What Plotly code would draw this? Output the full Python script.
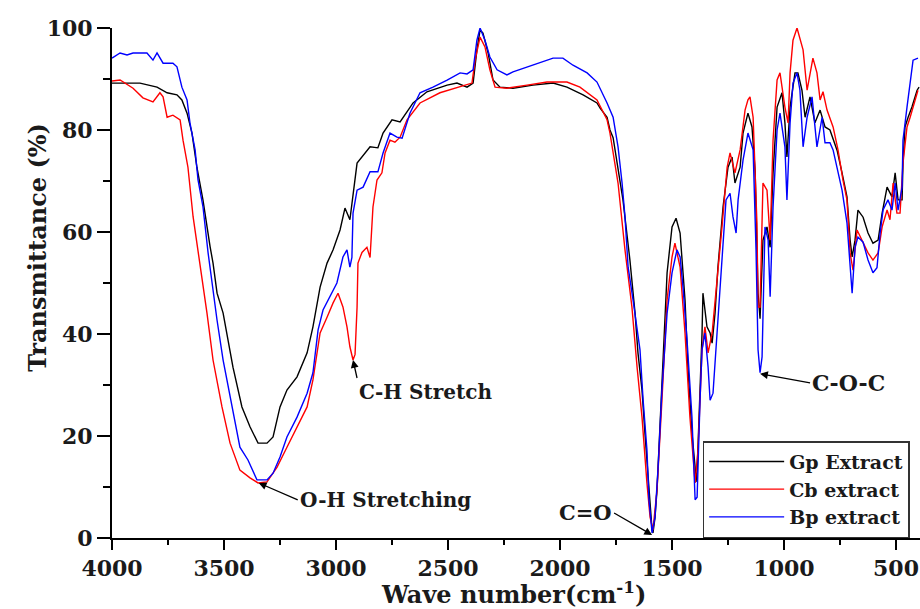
import plotly.graph_objects as go

# ---------------- data ----------------
gp_wave = [4000, 3875, 3799, 3754, 3710, 3688, 3665, 3643, 3621, 3594, 3562, 3549, 3531, 3504,
           3460, 3420, 3384, 3348, 3308, 3281, 3250, 3219, 3174, 3129, 3103, 3071, 3040, 3013,
           2982, 2960, 2938, 2924, 2906, 2848, 2813, 2790, 2750, 2714, 2656, 2594, 2504, 2460,
           2415, 2388, 2371, 2357, 2344, 2321, 2299, 2268, 2210, 2121, 2031, 1969, 1897, 1835,
           1821, 1790, 1777, 1763, 1719, 1688, 1665, 1652, 1634, 1621, 1607, 1598, 1589, 1585,
           1576, 1567, 1554, 1540, 1522, 1500, 1482, 1464, 1442, 1429, 1411, 1397, 1393, 1388,
           1375, 1366, 1362, 1353, 1344, 1330, 1321, 1308, 1295, 1272, 1250, 1232, 1219, 1196,
           1183, 1161, 1143, 1129, 1121, 1116, 1107, 1094, 1076, 1062, 1049, 1031, 1009, 996,
           987, 973, 951, 938, 920, 906, 884, 862, 839, 817, 795, 763, 741, 719, 705, 696, 683,
           670, 647, 625, 603, 580, 562, 540, 518, 504, 491, 473, 469, 460, 446, 429, 406, 397]
gp_trans = [89.2, 89.2, 88.4, 87.3, 86.9, 85.9, 83.3, 79.4, 72.7, 66.3, 57.1, 53.9, 48.0, 44.1,
            33.5, 25.7, 21.8, 18.6, 18.6, 19.8, 25.7, 29.0, 31.6, 36.3, 41.4, 49.2, 53.9, 56.5,
            60.4, 64.7, 62.4, 67.6, 73.5, 76.7, 76.5, 79.4, 82.0, 81.6, 85.3, 87.5, 88.8, 89.2,
            88.4, 89.2, 95.7, 99.6, 99.0, 95.1, 89.8, 88.4, 88.2, 88.8, 89.2, 88.4, 86.9, 85.3,
            84.3, 82.5, 80.0, 78.5, 66.3, 54.5, 44.1, 36.3, 29.0, 20.6, 12.0, 6.0, 1.5, 1.0,
            4.0, 9.4, 21.8, 36.9, 52.0, 61.0, 62.7, 59.8, 46.7, 33.5, 20.6, 13.9, 11.0, 13.0,
            27.0, 40.2, 48.0, 44.0, 41.4, 40.2, 38.2, 44.1, 53.1, 65.0, 72.7, 74.7, 69.6, 72.7,
            79.4, 83.3, 80.6, 72.0, 60.0, 48.0, 43.0, 58.4, 61.0, 57.0, 71.6, 84.5, 87.3, 81.4,
            74.7, 84.5, 91.2, 91.2, 87.8, 82.5, 86.5, 81.4, 83.9, 80.6, 80.0, 76.0, 71.6, 66.9,
            58.4, 55.1, 58.4, 64.3, 62.9, 59.8, 57.8, 58.4, 63.7, 68.8, 66.9, 71.6, 66.3, 66.3,
            73.5, 80.6, 82.5, 84.5, 87.8, 88.4]

cb_wave = [4000, 3964, 3906, 3862, 3817, 3786, 3772, 3754, 3728, 3696, 3683, 3661, 3638, 3607,
           3589, 3576, 3549, 3509, 3473, 3429, 3384, 3348, 3308, 3263, 3219, 3174, 3129, 3103,
           3071, 3040, 3013, 2991, 2969, 2951, 2938, 2924, 2915, 2906, 2902, 2884, 2862, 2848,
           2835, 2817, 2795, 2781, 2759, 2737, 2714, 2683, 2625, 2536, 2446, 2393, 2379, 2357,
           2335, 2313, 2290, 2237, 2147, 2058, 1969, 1911, 1835, 1790, 1777, 1741, 1710, 1679,
           1656, 1634, 1612, 1598, 1585, 1567, 1545, 1522, 1500, 1487, 1464, 1442, 1420, 1397,
           1384, 1366, 1353, 1339, 1321, 1299, 1277, 1254, 1241, 1219, 1196, 1174, 1161, 1152,
           1138, 1129, 1121, 1116, 1107, 1094, 1076, 1062, 1049, 1031, 1018, 996, 982, 973, 960,
           942, 915, 897, 871, 853, 839, 826, 808, 781, 759, 737, 719, 705, 692, 674, 652, 625,
           603, 580, 562, 540, 527, 513, 496, 482, 469, 451, 437, 424, 402]
cb_trans = [89.6, 89.8, 88.2, 86.3, 85.5, 87.3, 86.5, 82.5, 82.9, 82.0, 78.0, 72.7, 63.0, 54.0,
            48.0, 44.1, 34.9, 25.7, 18.6, 13.3, 11.8, 10.8, 11.0, 13.9, 17.8, 21.8, 25.7, 31.0,
            40.2, 43.3, 46.1, 48.0, 45.3, 41.4, 37.5, 34.9, 36.0, 45.3, 53.9, 56.0, 57.0, 55.0,
            64.9, 70.2, 71.6, 75.5, 78.0, 77.6, 78.6, 82.0, 85.3, 87.3, 88.4, 89.2, 93.7, 98.2,
            96.3, 91.8, 88.4, 88.2, 88.8, 89.4, 89.4, 88.4, 85.9, 82.0, 79.4, 69.6, 56.5, 45.3,
            33.5, 23.7, 10.8, 4.1, 1.6, 9.4, 27.0, 46.7, 55.1, 57.8, 53.1, 40.2, 23.7, 10.8,
            17.3, 36.9, 41.4, 36.3, 40.2, 50.0, 61.0, 72.7, 75.5, 71.6, 76.1, 83.9, 85.9, 86.5,
            82.5, 71.6, 61.8, 45.3, 45.3, 69.6, 68.2, 58.4, 78.0, 89.8, 91.2, 84.5, 81.4, 91.2, 97.6,
            100.0, 95.7, 87.8, 94.1, 91.2, 85.9, 87.5, 83.9, 80.6, 76.1, 70.2, 66.3, 55.9, 52.5,
            60.4, 58.4, 55.9, 54.5, 55.9, 61.0, 64.3, 62.4, 69.6, 63.7, 63.7, 73.5, 80.6, 82.5,
            84.5, 87.8]

bp_wave = [4000, 3964, 3933, 3906, 3844, 3817, 3799, 3772, 3728, 3710, 3688, 3665, 3652, 3629,
           3616, 3594, 3571, 3549, 3531, 3504, 3464, 3429, 3393, 3353, 3308, 3281, 3250, 3219,
           3174, 3129, 3103, 3080, 3058, 3027, 2996, 2969, 2951, 2938, 2929, 2924, 2906, 2879,
           2848, 2813, 2790, 2759, 2728, 2705, 2670, 2625, 2567, 2504, 2446, 2415, 2388, 2371,
           2357, 2335, 2313, 2281, 2237, 2210, 2147, 2089, 2031, 1987, 1942, 1879, 1835, 1790,
           1763, 1741, 1723, 1710, 1696, 1674, 1643, 1629, 1612, 1603, 1589, 1576, 1562, 1545,
           1522, 1500, 1478, 1464, 1451, 1433, 1411, 1397, 1388, 1375, 1366, 1353, 1339, 1330,
           1317, 1299, 1277, 1259, 1241, 1228, 1214, 1205, 1183, 1161, 1138, 1125, 1116, 1107,
           1098, 1085, 1071, 1062, 1049, 1031, 1018, 996, 987, 973, 960, 942, 929, 915, 897, 875,
           853, 830, 817, 795, 781, 759, 741, 719, 705, 696, 683, 670, 647, 625, 603, 585, 571,
           558, 536, 518, 504, 491, 473, 469, 451, 437, 424, 402]
bp_trans = [94.1, 95.1, 94.7, 95.1, 95.1, 93.7, 95.1, 93.1, 93.1, 92.4, 88.4, 85.9, 81.4, 76.1,
            70.2, 65.0, 55.9, 48.0, 42.7, 34.9, 25.7, 17.8, 15.3, 11.4, 11.4, 12.7, 15.9, 19.8,
            23.7, 28.4, 32.4, 40.8, 44.7, 47.3, 50.0, 55.1, 56.5, 53.1, 55.0, 63.7, 68.2, 68.8,
            71.8, 71.8, 75.5, 79.4, 78.6, 78.4, 83.3, 87.3, 88.4, 89.8, 91.2, 91.0, 91.8, 97.6,
            100.0, 97.6, 94.3, 91.8, 90.8, 91.4, 92.4, 93.3, 94.1, 94.1, 92.7, 91.2, 89.4, 85.3,
            82.5, 76.7, 69.6, 63.0, 53.1, 46.7, 36.9, 27.0, 17.3, 7.5, 1.0, 4.1, 13.9, 29.0,
            44.1, 52.0, 56.5, 55.1, 49.2, 38.8, 23.7, 7.5, 8.0, 27.0, 36.9, 40.2, 33.5, 27.0,
            28.4, 40.2, 54.5, 66.3, 67.6, 63.0, 59.8, 66.3, 74.1, 79.4, 76.1, 56.5, 36.9, 32.4,
            35.5, 61.0, 58.4, 47.3, 64.9, 80.0, 83.3, 76.7, 66.3, 81.4, 89.2, 91.2, 87.8, 76.7,
            82.5, 86.5, 76.7, 82.5, 77.5, 77.5, 76.1, 71.6, 68.2, 61.8, 52.0, 48.0, 57.0, 59.0,
            58.0, 54.5, 52.0, 53.0, 59.8, 64.3, 66.3, 64.3, 69.6, 64.3, 68.8, 78.0, 84.5, 89.8,
            93.7, 94.1]

series_names = ["Gp Extract", "Cb extract", "Bp extract"]
series_colors = ["#000000", "#ff0000", "#0000ff"]

x_ticks = [4000, 3500, 3000, 2500, 2000, 1500, 1000, 500]
y_ticks = [0, 20, 40, 60, 80, 100]

# annotation labels: (text, wavenumber, transmittance)
labels = [("C-H Stretch", 2924, 34.9),
          ("O-H Stretching", 3345, 10.8),
          ("C=O", 1589, 0.6),
          ("C-O-C", 1107, 32.2)]

# ---------------- figure ----------------
FONT = "DejaVu Serif"
fig = go.Figure()
for name, col, xs, ys in zip(series_names, series_colors,
                             [gp_wave, cb_wave, bp_wave], [gp_trans, cb_trans, bp_trans]):
    fig.add_trace(go.Scatter(x=xs, y=ys, mode="lines", name=name, legendgroup=name,
                             line=dict(color=col, width=1.4)))

axis_common = dict(showgrid=False, zeroline=False, showline=True, linecolor="black",
                   linewidth=2, ticks="outside", tickcolor="black", tickwidth=2,
                   tickfont=dict(family=FONT, size=22, color="#1a1a1a", weight="bold"))

fig.update_xaxes(range=[4000, 393], tickvals=x_ticks, ticklen=10,
                 minor=dict(dtick=250, tick0=0, ticklen=5, tickwidth=2, tickcolor="black",
                            ticks="outside"),
                 **axis_common)
fig.update_yaxes(range=[0, 100], tickvals=y_ticks, ticklen=13,
                 minor=dict(dtick=10, tick0=0, ticklen=7, tickwidth=2, tickcolor="black",
                            ticks="outside"),
                 **axis_common)

anns = []
t, x, y = labels[0]
anns.append(dict(x=x, y=y, text=t, ax=4, ay=18, xanchor="left", yanchor="top", size=20))
t, x, y = labels[1]
anns.append(dict(x=x, y=y, text=t, ax=39, ay=17, xanchor="left", yanchor="middle", size=20))
t, x, y = labels[2]
anns.append(dict(x=x, y=y, text=t, ax=-38, ay=-22, xanchor="right", yanchor="middle", size=21))
t, x, y = labels[3]
anns.append(dict(x=x, y=y, text=t, ax=50, ay=9, xanchor="left", yanchor="middle", size=22))
for a in anns:
    sz = a.pop("size")
    a.update(xref="x", yref="y", showarrow=True, arrowhead=2, arrowsize=1.2,
             arrowwidth=1.3, arrowcolor="black",
             font=dict(family=FONT, size=sz, color="#1a1a1a", weight="bold"))
    fig.add_annotation(**a)

fig.add_annotation(text="Transmittance (%)", xref="paper", yref="paper",
                   x=-0.112, y=0.569, textangle=-90, showarrow=False,
                   font=dict(family=FONT, size=24, color="#1a1a1a", weight="bold"))
fig.add_annotation(text="Wave number(cm<sup>-1</sup>)", xref="paper", yref="paper",
                   x=0.497, y=-0.108, showarrow=False, yanchor="middle",
                   font=dict(family=FONT, size=24, color="#1a1a1a", weight="bold"))

fig.update_layout(
    width=920, height=609,
    margin=dict(l=112, r=0, t=28, b=71),
    paper_bgcolor="white", plot_bgcolor="white",
    showlegend=True,
    legend=dict(x=0.731, y=0.19, xanchor="left", yanchor="top",
                bgcolor="white", bordercolor="#333333", borderwidth=1.5,
                font=dict(family=FONT, size=19, color="#1a1a1a", weight="bold"),
                itemwidth=75, tracegroupgap=0),
)

fig.write_html("out.html")
